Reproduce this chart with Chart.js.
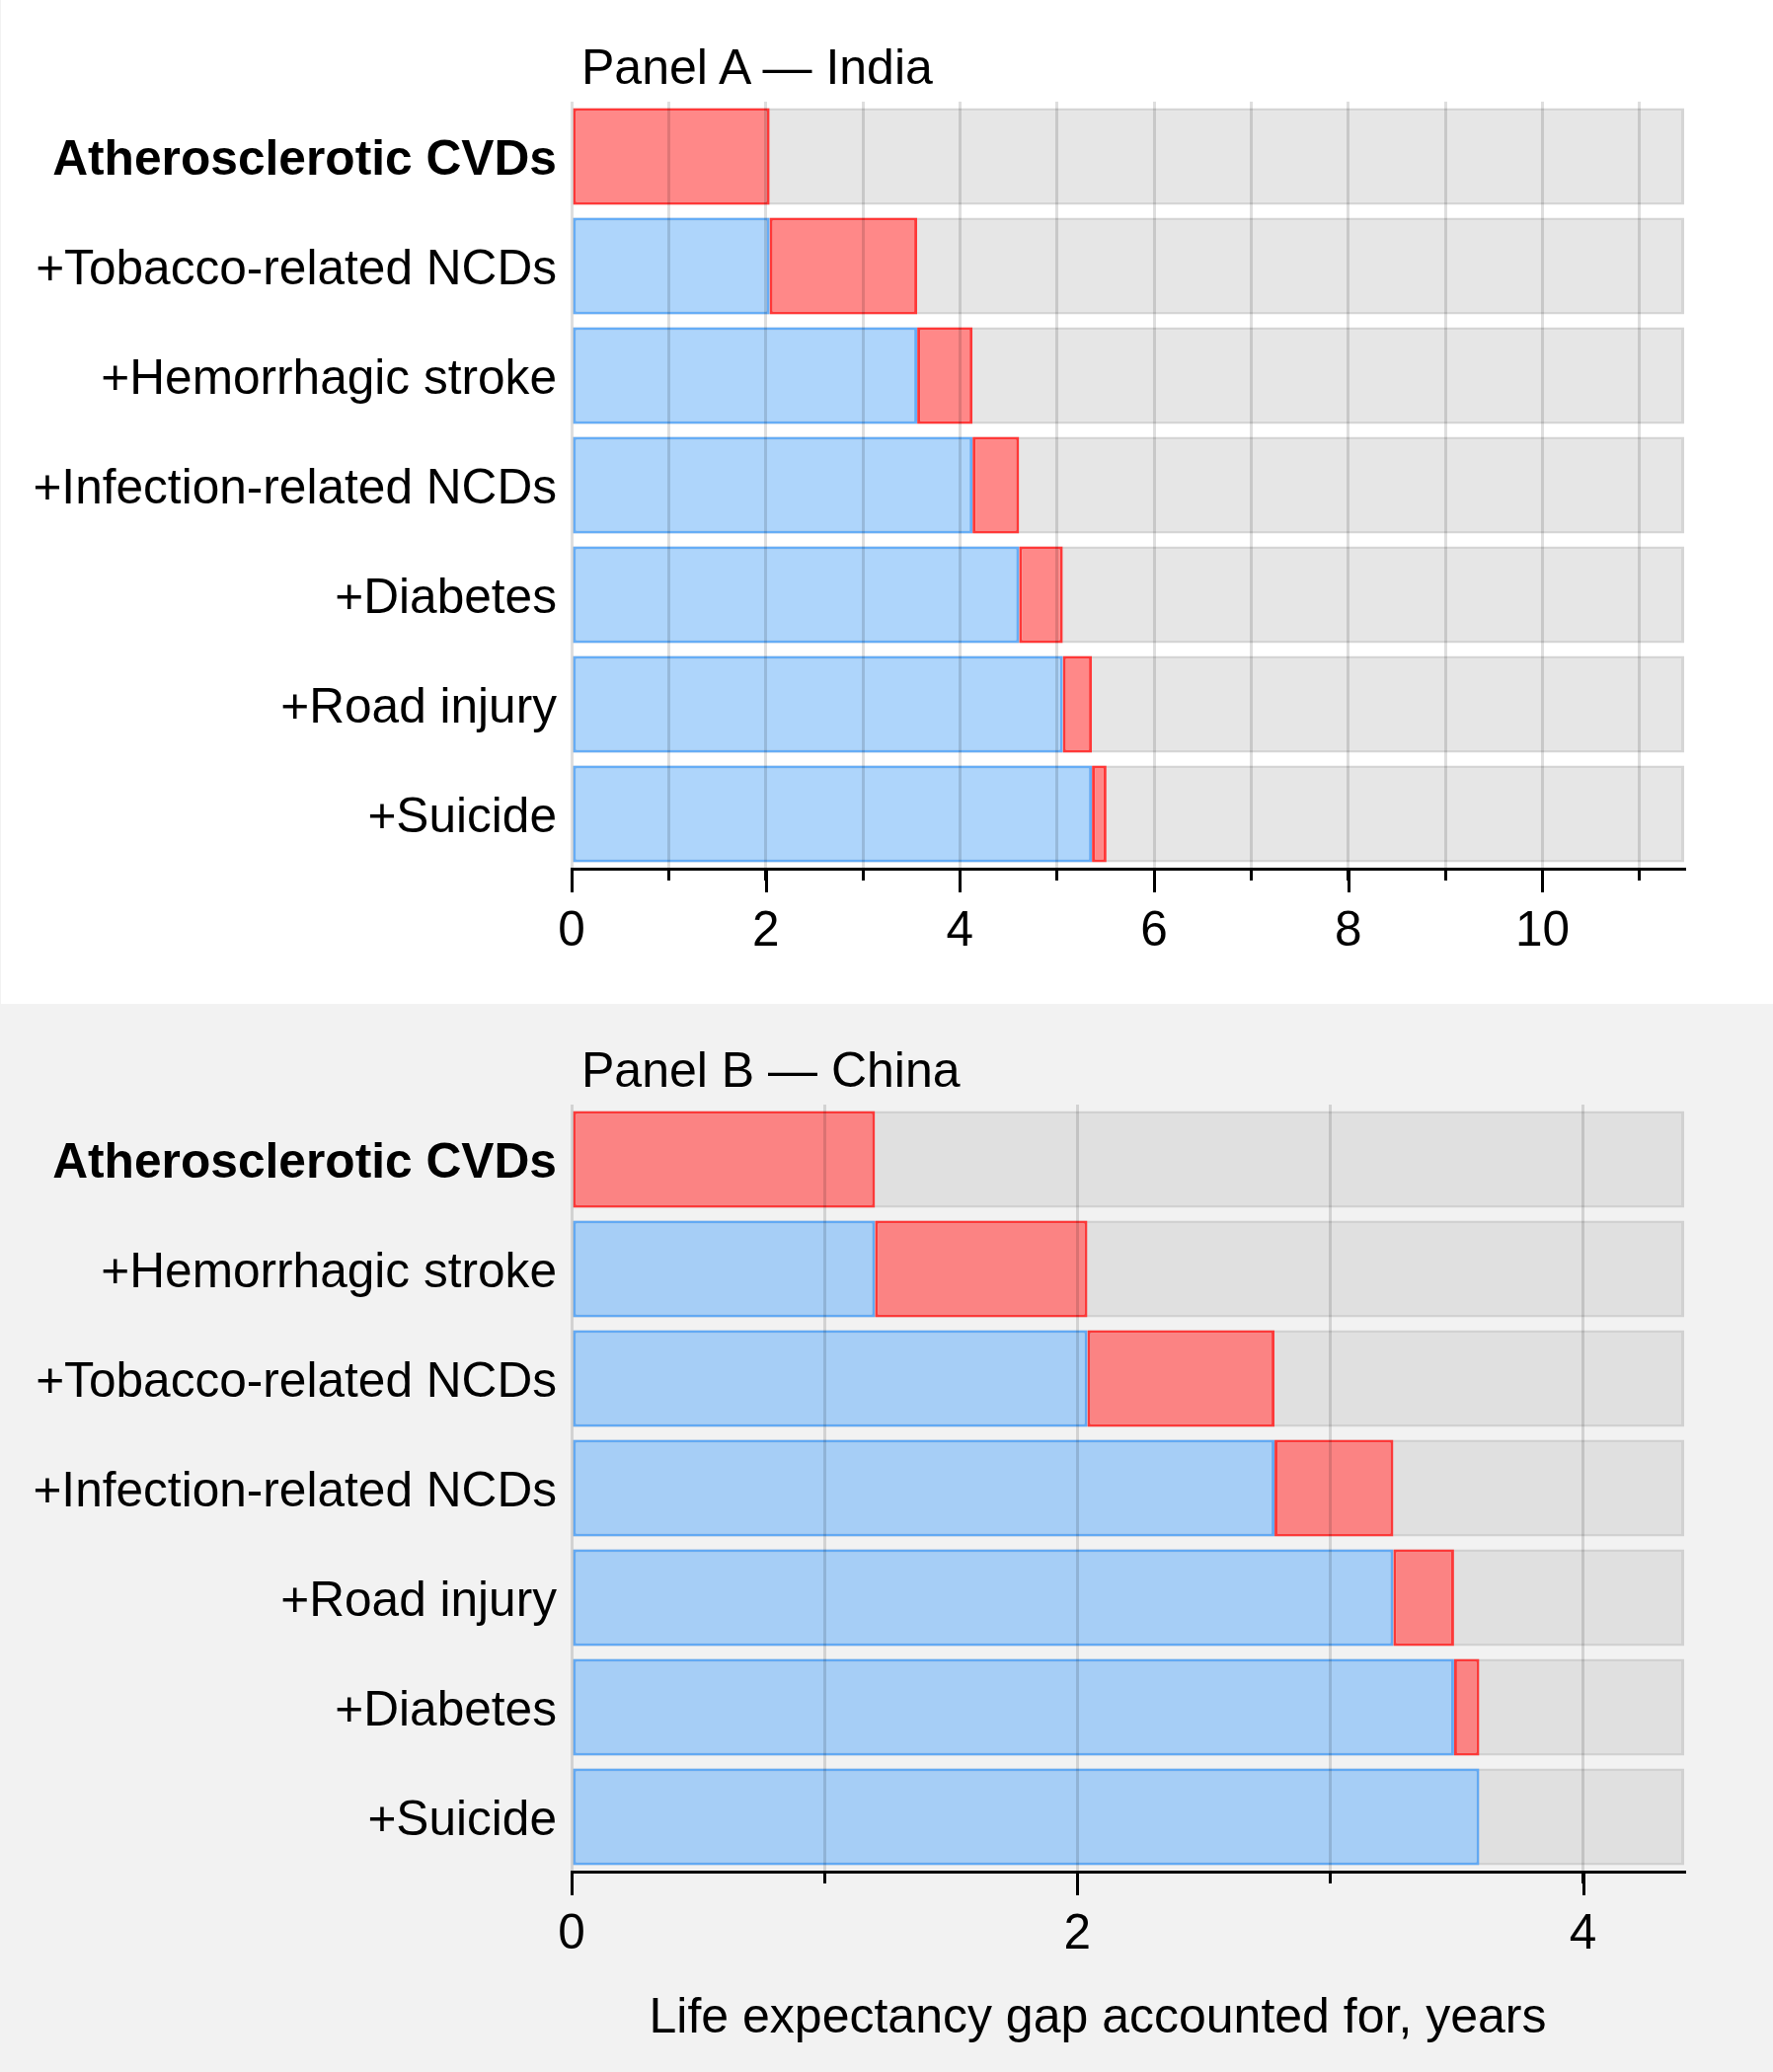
<!DOCTYPE html>
<html>
<head>
<meta charset="utf-8">
<script src="https://cdn.jsdelivr.net/npm/chart.js@4.4.1/dist/chart.umd.min.js"></script>
<style>
    html, body { margin: 0; padding: 0; }
    body {
        width: 1796px; height: 2099px; position: relative; overflow: hidden;
        background: #f2f2f2; color: #000;
        font-family: "Liberation Sans", Arial, sans-serif;
    }
    .panel-a { position: absolute; left: 1px; top: 0; width: 1795px; height: 1017px; background: #fff; }
    canvas { position: absolute; left: 0; }
    .label { position: absolute; font-size: 50px; line-height: 50px; white-space: nowrap; }
</style>
</head>
<body>
<div class="panel-a"></div>
<canvas id="chartIndia" width="1796" height="1017" style="top:0"></canvas>
<canvas id="chartChina" width="1796" height="1082" style="top:1017px"></canvas>
<div class="label" style="left:589px;top:43px">Panel A — India</div>
<div class="label" style="left:589px;top:1059px">Panel B — China</div>
<div class="label" style="left:1112px;top:2017px;transform:translateX(-50%)">Life expectancy gap accounted for, years</div>

<script>
/**
 * Cumulative life expectancy gap — India vs China panels
 */

// Panel A — India (cumulative years, in the order causes are added)
var indiaCauses = ['Atherosclerotic CVDs', '+Tobacco-related NCDs', '+Hemorrhagic stroke',
    '+Infection-related NCDs', '+Diabetes', '+Road injury', '+Suicide'];
var indiaCumulative = [2.04, 3.56, 4.13, 4.61, 5.06, 5.36, 5.51];
var indiaTotalGap = 11.46;

// Panel B — China
var chinaCauses = ['Atherosclerotic CVDs', '+Hemorrhagic stroke', '+Tobacco-related NCDs',
    '+Infection-related NCDs', '+Road injury', '+Diabetes', '+Suicide'];
var chinaCumulative = [1.20, 2.04, 2.78, 3.25, 3.49, 3.59, 3.59];
var chinaTotalGap = 4.40;

var labeledTickStep = 2;

(function () {
    'use strict';

    var FONT = '"Liberation Sans", Arial, sans-serif';

    // longer tick marks under the labelled values
    var majorTicks = {
        id: 'majorTicks',
        afterDraw: function (chart) {
            var scale = chart.scales.x;
            var area = chart.chartArea;
            var ctx = chart.ctx;
            ctx.save();
            ctx.strokeStyle = '#000';
            ctx.lineWidth = 3;
            scale.ticks.forEach(function (t) {
                if (t.value % labeledTickStep !== 0) return;
                var px = Math.round(scale.getPixelForValue(t.value)) + 0.5;
                ctx.beginPath();
                ctx.moveTo(px, area.bottom);
                ctx.lineTo(px, area.bottom + 24);
                ctx.stroke();
            });
            ctx.restore();
        }
    };

    function makeChart(canvasId, causes, cumulative, totalGap, theme, layout) {
        var added = cumulative.map(function (c, i) { return [i ? cumulative[i - 1] : 0, c]; });
        var before = cumulative.map(function (c, i) { return i ? [0, cumulative[i - 1]] : null; });
        var gap = causes.map(function () { return [0, totalGap]; });

        return new Chart(document.getElementById(canvasId), {
            type: 'bar',
            plugins: [majorTicks],
            data: {
                labels: causes,
                datasets: [
                    {
                        label: 'Added cause',
                        data: added,
                        backgroundColor: theme.red,
                        borderColor: theme.redBorder,
                        order: 1
                    },
                    {
                        label: 'Already accounted',
                        data: before,
                        backgroundColor: theme.blue,
                        borderColor: theme.blueBorder,
                        order: 2
                    },
                    {
                        label: 'Total gap',
                        data: gap,
                        backgroundColor: theme.grey,
                        borderColor: theme.greyBorder,
                        order: 3
                    }
                ]
            },
            options: {
                indexAxis: 'y',
                responsive: false,
                animation: false,
                devicePixelRatio: 1,
                layout: { padding: { left: 0, top: layout.top, right: 90, bottom: 0 } },
                datasets: {
                    bar: {
                        grouped: false,
                        borderWidth: 3,
                        borderSkipped: false,
                        categoryPercentage: 1,
                        barPercentage: 0.883
                    }
                },
                plugins: {
                    legend: { display: false },
                    tooltip: { enabled: false }
                },
                scales: {
                    x: {
                        type: 'linear',
                        min: 0,
                        max: totalGap,
                        afterFit: function (s) { s.height = layout.xHeight; },
                        // border on the same layer as the grid, drawn after it
                        border: { display: true, color: '#000', width: 3, z: 1 },
                        grid: {
                            z: 1,
                            color: 'rgba(0,0,0,0.13)',
                            lineWidth: 3,
                            tickColor: '#000',
                            tickWidth: 3,
                            tickLength: 12
                        },
                        ticks: {
                            stepSize: 1,
                            includeBounds: false,
                            autoSkip: false,
                            maxRotation: 0,
                            padding: 23,
                            color: '#000',
                            font: { family: FONT, size: 49.5 },
                            callback: function (v) { return v % labeledTickStep === 0 ? v : ''; }
                        }
                    },
                    y: {
                        afterFit: function (s) { s.width = 579; },
                        border: { display: false },
                        grid: { display: false, drawTicks: false },
                        ticks: {
                            autoSkip: false,
                            padding: 15,
                            labelOffset: 5,
                            color: '#000',
                            font: function (ctx) {
                                return ctx.index === 0
                                    ? { family: FONT, size: 49.7, weight: 'bold' }
                                    : { family: FONT, size: 49.6, weight: 'normal' };
                            }
                        }
                    }
                }
            }
        });
    }

    makeChart('chartIndia', indiaCauses, indiaCumulative, indiaTotalGap, {
        grey: '#e6e6e6', greyBorder: '#d5d5d5',
        blue: '#aed5fb', blueBorder: '#66adf6',
        red: '#ff8888', redBorder: '#ff3838'
    }, { top: 103, xHeight: 137 });

    makeChart('chartChina', chinaCauses, chinaCumulative, chinaTotalGap, {
        grey: '#e0e0e0', greyBorder: '#d1d1d1',
        blue: '#a6cef6', blueBorder: '#62a9f3',
        red: '#fb8383', redBorder: '#fc3939'
    }, { top: 102, xHeight: 203 });
})();
</script>
</body>
</html>
